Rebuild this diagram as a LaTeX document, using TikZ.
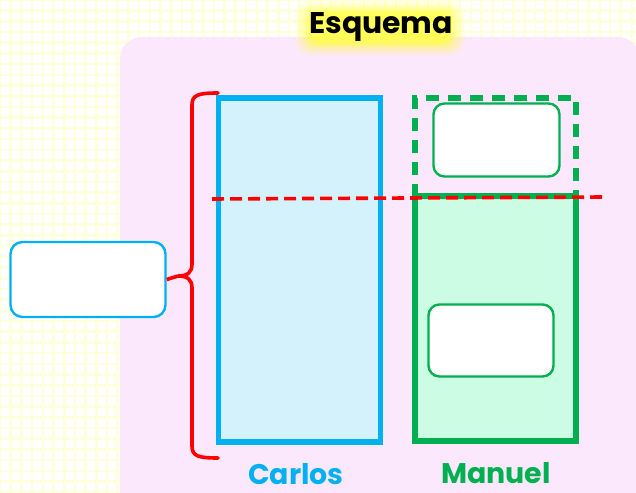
\documentclass[tikz,border=0pt]{standalone}
\usepackage{fontspec}
\setmainfont{Poppins}[BoldFont={* Bold}]
\definecolor{gridyel}{RGB}{255,255,222}
\definecolor{panelpink}{RGB}{252,232,252}
\definecolor{cblue}{RGB}{0,176,240}
\definecolor{cbluefill}{RGB}{212,242,252}
\definecolor{cgreen}{RGB}{0,176,80}
\definecolor{cgreenfill}{RGB}{204,252,228}
\definecolor{glowyel}{RGB}{255,255,60}
\tikzset{
  bigbox/.style={draw, line width=5.5bp, inner sep=0pt, outer sep=0pt},
  smallbox/.style={draw, line width=2.4bp, fill=white, rounded corners=11bp, inner sep=0pt},
  namelabel/.style={font=\bfseries\fontsize{28.5}{28.5}\selectfont, inner sep=0pt},
}
\begin{document}
\begin{tikzpicture}[x=1bp,y=-1bp]
\useasboundingbox (0,0) rectangle (636,493);
% background grid
\fill[white] (0,0) rectangle (636,493);
\begin{scope}
\clip (0,0) rectangle (636,493);
\draw[gridyel, line width=2.6bp] (0,0) grid[step=10.7bp] (640,500);
\end{scope}
% pink panel
\begin{scope}
\clip (0,0) rectangle (636,493);
\fill[panelpink, rounded corners=22bp] (120,37) rectangle (640,515);
\end{scope}
% title glow
\foreach \i/\o in {0/0.06,1/0.07,2/0.08,3/0.1,4/0.12,5/0.15,6/0.2,7/0.3,8/0.45}{
  \fill[glowyel, opacity=\o, rounded corners={16bp-\i bp}]
    ({294+\i*2},{0+\i*1.6}) rectangle ({466-\i*2},{56-\i*1.6});
}
\node[font=\bfseries\fontsize{30}{30}\selectfont, inner sep=0pt] (title) at (381,27) {Esquema};
% Carlos column
\node[bigbox, draw=cblue, fill=cbluefill, minimum width=162bp, minimum height=344bp] (carlos) at (299.5,270) {};
% Manuel column
\node[bigbox, draw=cgreen, dashed, dash pattern=on 13bp off 9bp, minimum width=161bp, minimum height=98bp] (mtop) at (495.5,147) {};
\node[bigbox, draw=cgreen, fill=cgreenfill, minimum width=161bp, minimum height=245bp] (manuel) at (495.5,318.5) {};
\node[smallbox, draw=cgreen, minimum width=126bp, minimum height=73bp] (mbox1) at (496.5,140) {};
\node[smallbox, draw=cgreen, minimum width=125bp, minimum height=72bp] (mbox2) at (491,340.5) {};
% left box
\node[smallbox, draw=cblue, rounded corners=12bp, minimum width=155bp, minimum height=75bp] (lbox) at (88,279.5) {};
% brace
\coordinate (btop) at (218,93);
\coordinate (bbot) at (218,458);
\coordinate (btip) at (178,276);
\draw[red, line width=3.6bp, line cap=round]
  (btop) .. controls (198,93) and (192,95) .. (192,105) -- (192,264)
  .. controls (192,272) and (188,276) .. (btip)
  .. controls (188,276) and (192,280) .. (192,288) -- (192,446)
  .. controls (192,456) and (198,458) .. (bbot);
\draw[red, line width=3.6bp] (lbox.east) -- (btip);
% red dashed line
\coordinate (rl) at (212,199);
\coordinate (rr) at (604,197);
\draw[red, line width=3.6bp, dash pattern=on 12bp off 6bp] (rl) -- (rr);
% labels
\node[namelabel, text=cblue] (lc) at (296,474) {Carlos};
\node[namelabel, text=cgreen] (lm) at (496,473) {Manuel};
\end{tikzpicture}
\end{document}
